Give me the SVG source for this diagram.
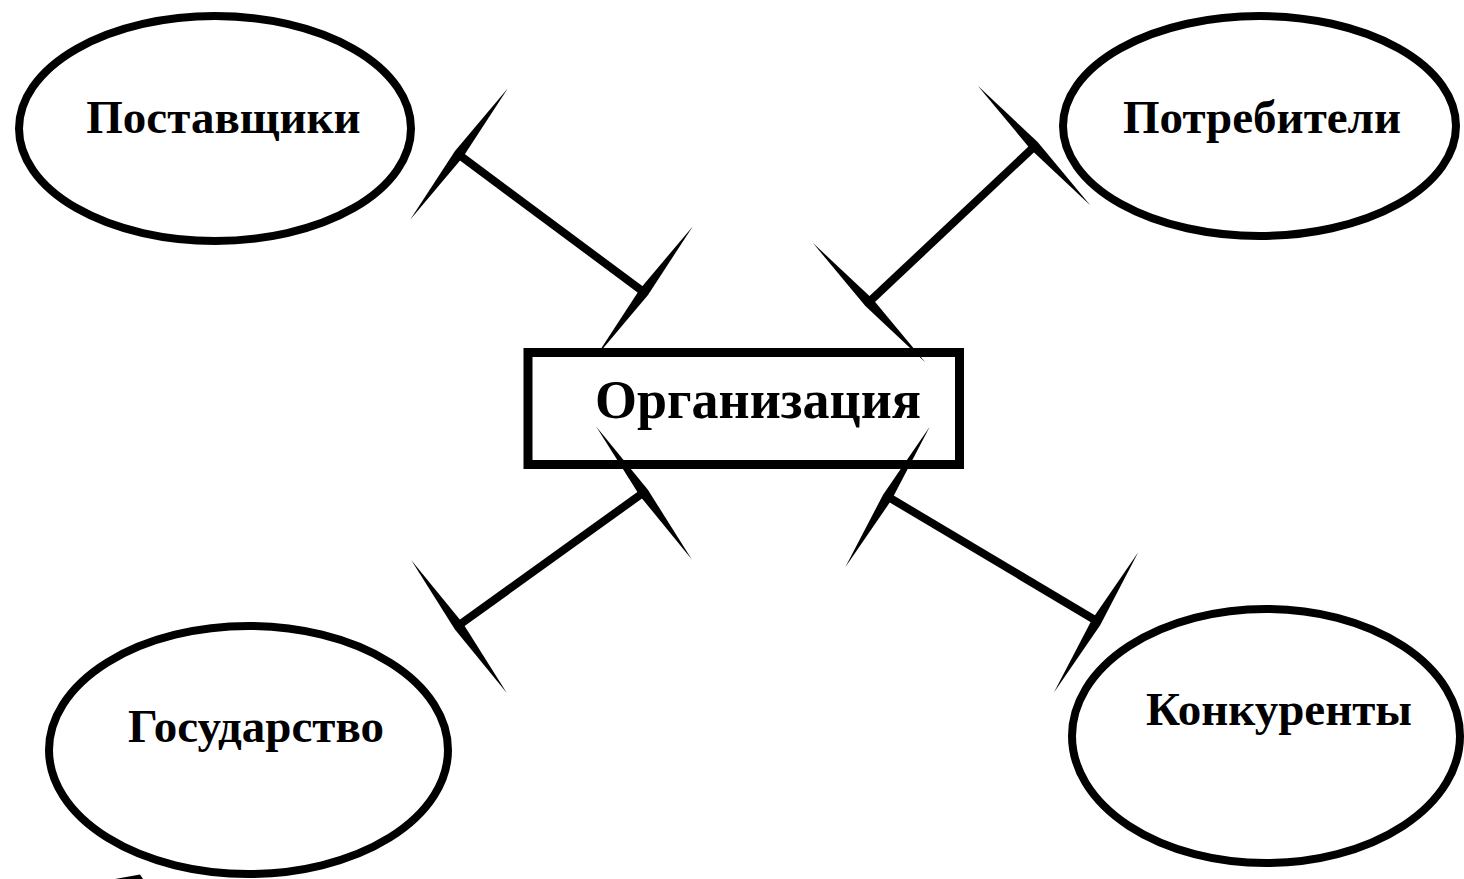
<svg xmlns="http://www.w3.org/2000/svg" xmlns:xlink="http://www.w3.org/1999/xlink" width="1464" height="879" viewBox="0 0 1464 879">
<style>
.node{fill:#fff;stroke:#000;stroke-width:8}
.lbl{font-family:"Liberation Serif","Times New Roman",serif;font-weight:bold;fill:#000;text-anchor:middle}
.conn{stroke:#000;stroke-width:8;fill:none}
.wedge{fill:#000;stroke:none}
</style>
<defs>
<polygon id="wedge" class="wedge" points="0,-82 5,0 0,82 -5,0"/>
</defs>
<rect width="1464" height="879" fill="#fff"/>
<g id="node-postavshchiki">
<ellipse class="node" cx="215" cy="128.5" rx="196" ry="112.5"/>
<text class="lbl" x="223.5" y="133" font-size="47">Поставщики</text>
</g>
<g id="node-potrebiteli">
<ellipse class="node" cx="1259.5" cy="126" rx="196.5" ry="110"/>
<text class="lbl" x="1262" y="133" font-size="47">Потребители</text>
</g>
<g id="node-gosudarstvo">
<ellipse class="node" cx="248.5" cy="750" rx="199.5" ry="124"/>
<text class="lbl" x="256" y="742" font-size="47">Государство</text>
</g>
<g id="node-konkurenty">
<ellipse class="node" cx="1266" cy="736" rx="194" ry="127"/>
<text class="lbl" x="1279" y="725" font-size="47">Конкуренты</text>
</g>
<g id="node-organizatsiya">
<rect x="528" y="352.5" width="431.5" height="112" fill="#fff" stroke="#000" stroke-width="9"/>
<text class="lbl" x="758" y="418" font-size="54">Организация</text>
</g>
<g id="connectors">
<line class="conn" x1="458" y1="154" x2="645" y2="293"/>
<use xlink:href="#wedge" transform="translate(459,154) rotate(36.6)"/>
<use xlink:href="#wedge" transform="translate(644,292) rotate(36.6)"/>
<line class="conn" x1="868" y1="303" x2="1037" y2="144"/>
<use xlink:href="#wedge" transform="translate(869,302.5) rotate(-43.3)"/>
<use xlink:href="#wedge" transform="translate(1034,145.5) rotate(-43.3)"/>
<line class="conn" x1="455" y1="628" x2="647" y2="490"/>
<use xlink:href="#wedge" transform="translate(459,626.5) rotate(-35.7)"/>
<use xlink:href="#wedge" transform="translate(644,493) rotate(-35.7)"/>
<line class="conn" x1="885" y1="495" x2="1100" y2="623"/>
<use xlink:href="#wedge" transform="translate(887.5,497) rotate(31)"/>
<use xlink:href="#wedge" transform="translate(1096,622.5) rotate(31)"/>
<polygon class="wedge" points="115,879 140,874.5 143,879"/>
</g>
</svg>
